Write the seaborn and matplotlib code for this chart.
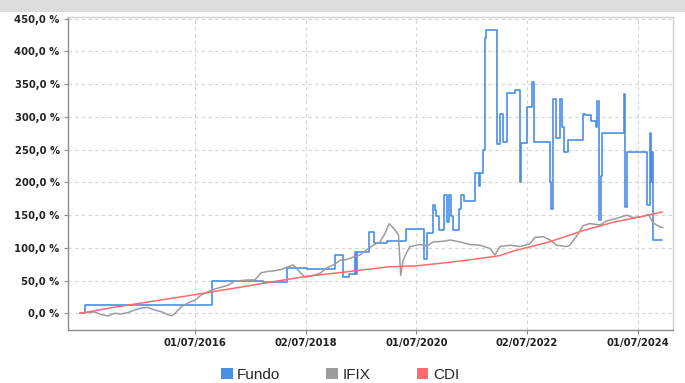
import matplotlib
matplotlib.use("Agg")
import matplotlib.pyplot as plt
import matplotlib.dates as mdates
from matplotlib.patches import Patch, Rectangle
import pandas as pd
import seaborn as sns

# Fund cumulative return (%), step series: value holds from each date to the next
fundo_dates = [
    "2014-06-01", "2014-07-08", "2016-10-19", "2017-09-23", "2018-02-27", "2018-07-08",
    "2019-01-11", "2019-03-07", "2019-04-16", "2019-05-23", "2019-05-28", "2019-06-08",
    "2019-08-25", "2019-09-25", "2019-12-22", "2020-04-24", "2020-08-21", "2020-09-12",
    "2020-10-22", "2020-11-01", "2020-11-08", "2020-11-26", "2021-01-01", "2021-01-20",
    "2021-02-04", "2021-02-15", "2021-03-03", "2021-04-11", "2021-04-25", "2021-05-10",
    "2021-07-23", "2021-08-20", "2021-08-28", "2021-09-16", "2021-09-27", "2021-10-05",
    "2021-12-17", "2022-01-04", "2022-01-22", "2022-02-17", "2022-04-13", "2022-05-16",
    "2022-05-20", "2022-06-29", "2022-08-05", "2022-08-16", "2022-11-30", "2022-12-05",
    "2022-12-22", "2023-01-09", "2023-02-04", "2023-02-15", "2023-02-28", "2023-03-30",
    "2023-07-07", "2023-07-18", "2023-08-25", "2023-09-27", "2023-10-04", "2023-10-21",
    "2023-11-01", "2023-11-06", "2024-04-02", "2024-04-09", "2024-04-20", "2024-09-02",
    "2024-09-20", "2024-09-26", "2024-10-01", "2024-10-08", "2024-12-06",
]
fundo_vals = [
    0, 12, 49, 48, 69, 67,
    89, 56, 60, 93, 60, 94,
    124, 108, 111, 128, 83, 123,
    166, 158, 148, 127, 181, 140,
    181, 148, 127, 160, 181, 171,
    214, 195, 214, 250, 420, 432,
    259, 305, 262, 336, 341, 200,
    260, 315, 353, 262, 200, 160,
    328, 267, 327, 285, 247, 265,
    305, 303, 294, 285, 325, 143,
    209, 276, 335, 163, 247, 165,
    275, 200, 247, 112, 112,
]

# IFIX index cumulative return (%)
ifix_dates = [
    "2014-06-01", "2014-07-15", "2014-09-10", "2014-10-20", "2014-12-05", "2015-01-18",
    "2015-03-01", "2015-04-15", "2015-05-30", "2015-07-12", "2015-08-25", "2015-10-10",
    "2015-11-20", "2016-01-05", "2016-01-27", "2016-02-20", "2016-04-02", "2016-05-17",
    "2016-06-30", "2016-08-12", "2016-09-25", "2016-11-08", "2016-12-22", "2017-02-05",
    "2017-03-20", "2017-05-05", "2017-06-17", "2017-07-31", "2017-09-12", "2017-10-27",
    "2017-12-10", "2018-01-22", "2018-03-07", "2018-04-10", "2018-05-12", "2018-06-27",
    "2018-08-20", "2018-10-03", "2018-11-16", "2019-01-01", "2019-02-14", "2019-03-30",
    "2019-05-12", "2019-06-25", "2019-08-08", "2019-09-20", "2019-11-04", "2019-12-07",
    "2020-01-04", "2020-02-01", "2020-03-05", "2020-03-14", "2020-03-20", "2020-04-05",
    "2020-04-20", "2020-05-20", "2020-07-25", "2020-09-10", "2020-10-20", "2020-12-26",
    "2021-02-10", "2021-04-15", "2021-06-20", "2021-08-25", "2021-10-30", "2021-12-02",
    "2022-01-04", "2022-03-12", "2022-05-16", "2022-07-20", "2022-08-23", "2022-10-16",
    "2022-11-30", "2023-01-13", "2023-03-20", "2023-04-10", "2023-05-25", "2023-07-07",
    "2023-08-20", "2023-10-26", "2023-12-08", "2024-02-13", "2024-04-20", "2024-06-02",
    "2024-08-07", "2024-09-09", "2024-10-12", "2024-11-25", "2024-12-16",
]
ifix_vals = [
    0, 1, 2, -2, -4, 0,
    -1, 1, 5, 8, 9, 5,
    2.5, -2, -4, 0, 10, 16,
    20, 28, 33, 37, 40, 43,
    49, 50, 51, 51, 62, 64,
    65, 67, 71, 74, 66, 55,
    58, 61, 69, 74, 81, 82,
    86, 89, 97, 104, 109, 122,
    137, 130, 120, 82, 58, 81,
    89, 102, 105, 103, 109, 110,
    112, 109, 105, 104, 99, 89,
    102, 104, 102, 106, 116, 117,
    112, 104, 102, 104, 118, 134,
    137, 135, 141, 145, 150, 146,
    148, 151, 138, 132, 131,
]

# CDI cumulative return (%)
cdi_dates = [
    "2014-06-01", "2015-01-10", "2015-09-15", "2016-07-01", "2017-03-20", "2017-10-25",
    "2018-07-25", "2019-01-01", "2019-07-01", "2020-01-01", "2020-07-01", "2021-01-01",
    "2021-07-01", "2022-01-01", "2022-04-01", "2022-11-25", "2023-07-01", "2024-01-20",
    "2024-09-10", "2024-12-10",
]
cdi_vals = [
    0, 9, 18, 28.5, 38.5, 47,
    57, 61, 66, 71, 72.5, 77,
    82, 88, 95, 109, 126, 139,
    150, 155,
]

tick_dates = ["2016-07-01", "2018-07-02", "2020-07-01", "2022-07-02", "2024-07-01"]
tick_labels = ["01/07/2016", "02/07/2018", "01/07/2020", "02/07/2022", "01/07/2024"]
y_ticks = [0, 50, 100, 150, 200, 250, 300, 350, 400, 450]

series_names = ["Fundo", "IFIX", "CDI"]
series_colors = ["#4a8fe7", "#9c9c9c", "#ff6b6b"]

sns.set_theme(style="white")
plt.rcParams["font.family"] = ["DejaVu Sans"]

fig = plt.figure(figsize=(6.85, 3.83), dpi=100)
fig.patches.append(Rectangle((0, 1 - 12 / 383), 1, 12 / 383, transform=fig.transFigure,
                             facecolor="#dcdcdc", edgecolor="none", zorder=0))
ax = fig.add_axes([68 / 685, 1 - 330 / 383, (673.3 - 68) / 685, (330 - 16.7) / 383])

fundo = pd.DataFrame({"date": pd.to_datetime(fundo_dates), "v": fundo_vals})
ifix = pd.DataFrame({"date": pd.to_datetime(ifix_dates), "v": ifix_vals})
cdi = pd.DataFrame({"date": pd.to_datetime(cdi_dates), "v": cdi_vals})

sns.lineplot(data=fundo, x="date", y="v", ax=ax, color=series_colors[0], lw=1.2,
             drawstyle="steps-post", estimator=None, sort=False)
sns.lineplot(data=ifix, x="date", y="v", ax=ax, color=series_colors[1], lw=1.1,
             estimator=None, sort=False)
sns.lineplot(data=cdi, x="date", y="v", ax=ax, color=series_colors[2], lw=1.1,
             estimator=None, sort=False)

ax.set_xlim(pd.Timestamp("2014-03-16"), pd.Timestamp("2025-02-21"))
ax.set_ylim(-25.5, 453)
ax.set_xticks(pd.to_datetime(tick_dates))
ax.set_xticklabels(tick_labels)
ax.set_yticks(y_ticks)
ax.set_yticklabels([f"{v:.1f}".replace(".", ",") + " %" for v in y_ticks])
ax.set_xlabel("")
ax.set_ylabel("")

ax.grid(True, color="#d4d4d4", linestyle=(0, (3, 3)), linewidth=0.8)
ax.set_axisbelow(True)
for side in ["left", "bottom"]:
    ax.spines[side].set_color("#8c8c8c")
    ax.spines[side].set_linewidth(1.0)
for side in ["top", "right"]:
    ax.spines[side].set_color("#cfcfcf")
    ax.spines[side].set_linewidth(1.0)

ax.tick_params(axis="both", which="major", length=3, width=0.8, color="#8c8c8c",
               labelsize=7.2, labelcolor="#222222", pad=3, direction="out",
               left=True, bottom=True)
for lbl in ax.get_xticklabels() + ax.get_yticklabels():
    lbl.set_fontweight("bold")

handles = [Patch(facecolor=c, edgecolor="none") for c in series_colors]
fig.legend(handles, series_names, loc="center", bbox_to_anchor=(340 / 685, 1 - 375 / 383),
           ncol=3, frameon=False, prop={"family": "Liberation Sans", "size": 11},
           handlelength=0.78, handleheight=0.78, handletextpad=0.3, columnspacing=3.0,
           borderaxespad=0, borderpad=0)

fig.savefig("out.png", dpi=100)
